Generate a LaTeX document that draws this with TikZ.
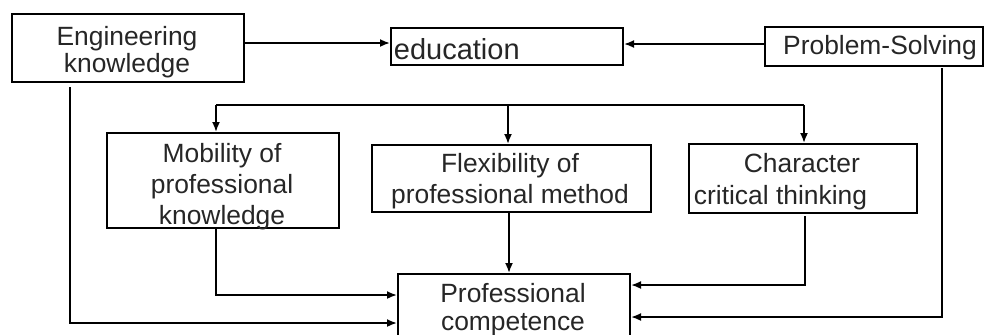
\documentclass[tikz,border=0pt]{standalone}
\usepackage{fontspec}
\setmainfont{Liberation Sans}
\usetikzlibrary{arrows.meta}

\begin{document}
\begin{tikzpicture}[x = {(0.5pt,0pt)},
  y = {(0pt,-0.5pt)},
  line width = 0.9pt,
  >={Latex[length=5pt,width=4pt]},
  box/.style = {draw, line width=1pt, inner sep=0pt, anchor=north west},
  txt/.style = {inner sep=0pt, text=black!85, align=center}]

  \useasboundingbox (0,0) rectangle (984,334);

  \def\fs{13.2}

  % boxes: name / left / top / right / bottom
  \foreach \n/\xa/\ya/\xb/\yb in {eng/11/13/243/81, edu/390/27/622/64,
    ps/764/26/982/65, mob/106/132/338/227, flex/371/144/650/211,
    char/688/143/916/212, prof/397/273/629/345}
  \node[box, minimum width={(\xb-\xa)*0.5pt}, minimum height={(\yb-\ya)*0.5pt}]
    (\n) at (\xa,\ya) {};

  % texts
  \node[txt, font=\fontsize{\fs}{13.5}\selectfont] (engt) at (127,52.5)
    {Engineering\\knowledge};
  \node[txt, anchor=base west, font=\fontsize{14.5}{16}\selectfont] (edut)
    at (393,59) {education};
  \node[txt, anchor=base, font=\fontsize{\fs}{15}\selectfont] (pst)
    at (880,54) {Problem-Solving};
  \node[txt, font=\fontsize{\fs}{15.5}\selectfont] (mobt) at (222,187)
    {Mobility of\\professional\\knowledge};
  \node[txt, font=\fontsize{\fs}{15.5}\selectfont] (flext) at (510,181.5)
    {Flexibility of\\professional method};
  \node[txt, align=left, anchor=west, font=\fontsize{\fs}{16}\selectfont]
    (chart) at (693,181.5) {\hspace*{25pt}Character\\critical thinking};
  \node[txt, font=\fontsize{\fs}{14}\selectfont] (proft) at (513,310)
    {Professional\\competence};

  % top row
  \draw[->] (eng.east |- 0,43) -- (edu.west |- 0,43);
  \draw[->] (ps.west |- 0,44) -- (edu.east |- 0,44);

  % bar over the middle row
  \coordinate (barl) at (216,105);
  \coordinate (barr) at (804,105);
  \draw (barl) -- (barr);
  \foreach \x/\n in {216/mob, 508/flex, 804/char}
  \draw[->] (\x,105) -- (\x,0 |- \n.north);

  % into competence
  \coordinate (engfoot) at (70,87);
  \coordinate (psfoot) at (942,68);
  \coordinate (charfoot) at (805,216);
  \draw[->] (216,0 |- mob.south) |- (prof.west |- 0,295);
  \draw[->] (509,0 |- flex.south) -- (509,0 |- prof.north);
  \draw[->] (charfoot) |- (prof.east |- 0,285);
  \draw[->] (engfoot) |- (prof.west |- 0,323);
  \draw[->] (psfoot) |- (prof.east |- 0,317);
\end{tikzpicture}
\end{document}
